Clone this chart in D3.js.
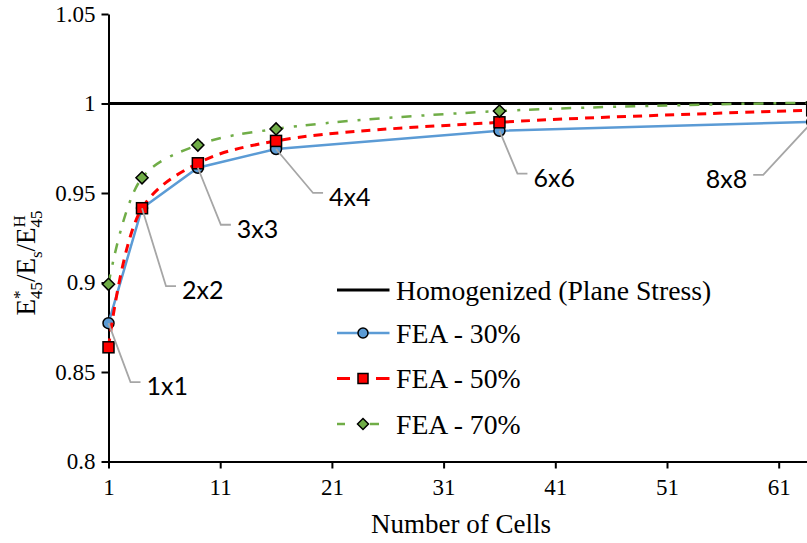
<!DOCTYPE html>
<html>
<head>
<meta charset="utf-8">
<script src="https://cdn.jsdelivr.net/npm/d3@7/dist/d3.min.js"></script>
<style>
  html, body { margin: 0; padding: 0; background: #fff; }
  svg { display: block; }
</style>
</head>
<body>
<svg id="chart" width="807" height="543"></svg>
<script>
// Number of cells in each mesh and its label
const cellCounts = [1, 4, 9, 16, 36, 64];
const meshLabels = ["1x1", "2x2", "3x3", "4x4", "6x6", "8x8"];

// Normalised shear modulus for each relative density
const fea30 = [0.8773, 0.9415, 0.9641, 0.9746, 0.9848, 0.9897];
const fea50 = [0.8638, 0.9415, 0.9666, 0.9791, 0.9895, 0.9962];
const fea70 = [0.8990, 0.9585, 0.9768, 0.9858, 0.9958, 1.0005];

// Homogenized (plane stress) reference value
const homogenizedValue = 1.0;

// Axis ticks
const xTicks = [1, 11, 21, 31, 41, 51, 61];
const yTicks = [0.8, 0.85, 0.9, 0.95, 1.0, 1.05];

const legendNames = ["Homogenized (Plane Stress)", "FEA - 30%", "FEA - 50%", "FEA - 70%"];

// Label placement relative to the 30% marker (text anchor point)
const labelOffsets = [
  { dx: 38, dy: 62, anchor: "start" },
  { dx: 40, dy: 81, anchor: "start" },
  { dx: 39, dy: 60, anchor: "start" },
  { dx: 53, dy: 47, anchor: "start" },
  { dx: 34, dy: 46, anchor: "start" },
  { dx: -65, dy: 56, anchor: "end" }
];

const svg = d3.select("#chart");
const serif = "'Liberation Serif', 'Times New Roman', serif";
const sans = "Lato, 'Noto Sans', sans-serif";

const x0 = 108.5, pxPerUnit = 11.17;
const x = d3.scaleLinear().domain([1, 71]).range([x0, x0 + 70 * pxPerUnit]);
const y = d3.scaleLinear().domain([0.8, 1.05]).range([461.5, 14]);

svg.append("rect").attr("width", 807).attr("height", 543).attr("fill", "#fff");

// Axes
const yAxis = svg.append("g")
  .attr("transform", `translate(${x0},0)`)
  .call(d3.axisLeft(y).tickValues(yTicks).tickSize(7).tickSizeOuter(0).tickPadding(6)
    .tickFormat(d => String(+d.toFixed(2))));
const xAxis = svg.append("g")
  .attr("transform", `translate(0,${y(0.8)})`)
  .call(d3.axisBottom(x).tickValues(xTicks).tickSize(7).tickSizeOuter(0).tickPadding(10)
    .tickFormat(d3.format("d")));

[yAxis, xAxis].forEach(g => {
  g.selectAll("path.domain").attr("stroke", "#000").attr("stroke-width", 2);
  g.selectAll(".tick line").attr("stroke", "#000").attr("stroke-width", 2);
  g.selectAll(".tick text").attr("font-family", serif).attr("font-size", 23).attr("fill", "#000");
});

// Axis titles
svg.append("text")
  .attr("x", 461).attr("y", 533)
  .attr("text-anchor", "middle")
  .attr("font-family", serif).attr("font-size", 27).attr("fill", "#000")
  .text("Number of Cells");

const yTitle = svg.append("text")
  .attr("transform", "translate(35,263) rotate(-90)")
  .attr("text-anchor", "middle")
  .attr("font-family", serif).attr("font-size", 27).attr("fill", "#000");
yTitle.append("tspan").text("E");
const star = yTitle.append("tspan").attr("font-size", 17).attr("dy", -10).text("*");
const sub1 = yTitle.append("tspan").attr("font-size", 17).attr("dy", 17).text("45");
yTitle.append("tspan").attr("dy", -7).text("/E");
yTitle.append("tspan").attr("font-size", 17).attr("dy", 7).text("s");
yTitle.append("tspan").attr("dy", -7).text("/E");
const supH = yTitle.append("tspan").attr("font-size", 17).attr("dy", -10).text("H");
const sub2 = yTitle.append("tspan").attr("font-size", 17).attr("dy", 17).text("45");
sub1.attr("dx", -star.node().getComputedTextLength());
sub2.attr("dx", -supH.node().getComputedTextLength());

// Homogenized reference line
svg.append("line")
  .attr("x1", x(1)).attr("x2", x(71))
  .attr("y1", y(homogenizedValue)).attr("y2", y(homogenizedValue))
  .attr("stroke", "#000").attr("stroke-width", 3);

const series = [
  { values: fea30, color: "#5b9bd5", dash: null, width: 2.5, curve: d3.curveLinear, marker: "circle" },
  { values: fea50, color: "#ff0000", dash: "9,7", width: 3, curve: d3.curveCatmullRom, marker: "square" },
  { values: fea70, color: "#70ad47", dash: "10,10,3,9", width: 2.5, curve: d3.curveCatmullRom, marker: "diamond" }
];

function drawMarker(g, kind, cx, cy, color, size) {
  if (kind === "circle") {
    g.append("circle").attr("cx", cx).attr("cy", cy).attr("r", size * 0.5)
      .attr("fill", color).attr("stroke", "#000").attr("stroke-width", 1.5);
  } else if (kind === "square") {
    g.append("rect").attr("x", cx - size / 2).attr("y", cy - size / 2)
      .attr("width", size).attr("height", size)
      .attr("fill", color).attr("stroke", "#000").attr("stroke-width", 1.5);
  } else {
    const h = size * 0.55;
    g.append("path").attr("d", `M${cx},${cy - h}L${cx + h},${cy}L${cx},${cy + h}L${cx - h},${cy}Z`)
      .attr("fill", color).attr("stroke", "#000").attr("stroke-width", 1.5);
  }
}

series.forEach(s => {
  const pts = cellCounts.map((c, i) => [x(c), y(s.values[i])]);
  const line = d3.line().curve(s.curve);
  svg.append("path").attr("d", line(pts))
    .attr("fill", "none").attr("stroke", s.color).attr("stroke-width", s.width)
    .attr("stroke-dasharray", s.dash);
  const g = svg.append("g");
  pts.forEach(p => drawMarker(g, s.marker, p[0], p[1], s.color, 11));
});

// Mesh labels with leader lines, attached to the 30% series
const labelLayer = svg.append("g");
cellCounts.forEach((c, i) => {
  const px = x(c), py = y(fea30[i]);
  const o = labelOffsets[i];
  const tx = px + o.dx, ty = py + o.dy;
  const sign = o.anchor === "start" ? -1 : 1;
  const hEnd = tx + sign * 6, hStart = tx + sign * 16;
  labelLayer.append("path")
    .attr("d", `M${px},${py}L${hStart},${ty - 3}L${hEnd},${ty - 3}`)
    .attr("fill", "none").attr("stroke", "#a6a6a6").attr("stroke-width", 1.8);
  labelLayer.append("text")
    .attr("x", tx).attr("y", ty)
    .attr("text-anchor", o.anchor).attr("dominant-baseline", "central")
    .attr("font-family", sans).attr("font-size", 25).attr("fill", "#000")
    .text(meshLabels[i]);
});

// Legend
const legendX1 = 337, legendX2 = 389.5, legendMid = 363, legendTextX = 396;
const legendRows = [290, 333, 378.5, 424];
const legendSegments = [
  [[legendX1, legendX2]],
  [[legendX1, 350], [376, legendX2]],
  [[legendX1, 345], [370, 379]]
];
const legend = svg.append("g");
legendRows.forEach((ly, i) => {
  if (i === 0) {
    legend.append("line").attr("x1", legendX1).attr("x2", legendX2).attr("y1", ly).attr("y2", ly)
      .attr("stroke", "#000").attr("stroke-width", 3);
  } else {
    const s = series[i - 1];
    legendSegments[i - 1].forEach(([a, b]) => legend.append("line")
      .attr("x1", a).attr("x2", b).attr("y1", ly).attr("y2", ly)
      .attr("stroke", s.color).attr("stroke-width", s.width));
    drawMarker(legend, s.marker, legendMid, ly, s.color, 10);
  }
  legend.append("text").attr("x", legendTextX).attr("y", ly)
    .attr("dominant-baseline", "central")
    .attr("font-family", serif).attr("font-size", 27.7).attr("fill", "#000")
    .text(legendNames[i]);
});
</script>
</body>
</html>
